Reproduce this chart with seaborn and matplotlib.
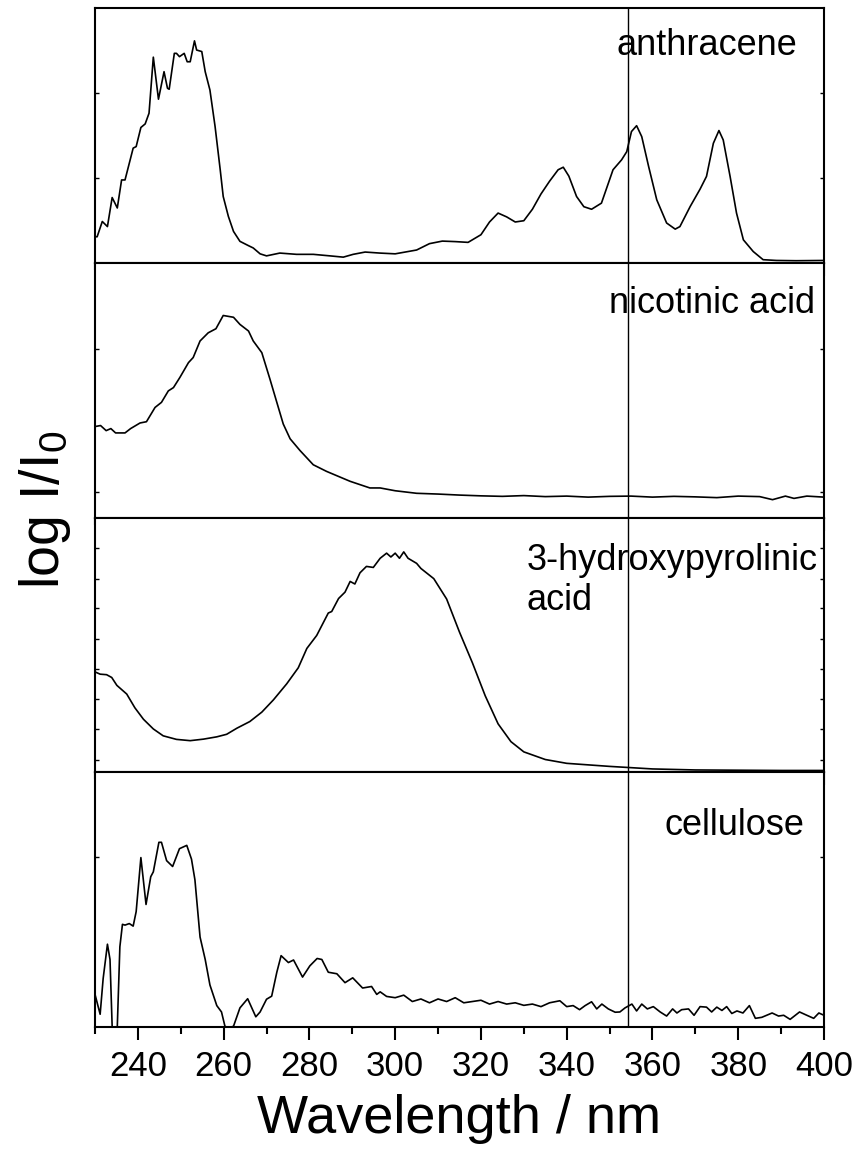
import numpy as np
import pandas as pd
import matplotlib
matplotlib.use("Agg")
import matplotlib.pyplot as plt
from matplotlib.ticker import MultipleLocator, FixedLocator, NullFormatter
import seaborn as sns

# ---------------- data (y in % of panel height) -------------
anth_wl = [230, 230.5, 231.7, 232.9, 234.0, 235.2, 236.2, 237.0, 238.9, 239.6, 240.7, 241.7,
           242.6, 243.6, 244.8, 246.1, 246.9, 247.3, 248.5, 249.0, 249.7, 250.8, 251.5, 252.2,
           253.2, 253.7, 254.9, 255.7, 256.8, 258.0, 259.2, 259.9, 261.1, 262.3, 263.8, 265.8,
           266.9, 268.5, 270.0, 273.1, 277.0, 280.9, 284.8, 287.9, 290.2, 293.0, 296.4, 300,
           305, 308, 311, 314, 317, 320, 322, 324, 326, 328, 330, 332, 334, 336, 338, 339.2,
           340.5, 342.3, 344, 345.8, 348.1, 350.8, 352.8, 354.0, 355.1, 356.3, 357.5, 359.1,
           361.0, 363.3, 365.3, 366.4, 368.8, 371.1, 372.6, 374.2, 375.5, 376.5, 378.1, 379.6,
           381.2, 383.5, 385.8, 388.9, 393.5, 400]
anth_val = [10.2, 10.2, 16.2, 14.2, 25.6, 21.5, 32.5, 32.5, 45.0, 45.6, 53.1, 54.5,
            58.7, 80.7, 64.2, 75.0, 68.5, 68.1, 82.2, 82.2, 80.9, 82.2, 78.9, 78.9,
            87.1, 83.5, 82.9, 75.0, 67.8, 53.5, 36.5, 26.0, 18.2, 12.3, 8.4, 6.7,
            5.8, 3.5, 2.7, 3.8, 3.3, 3.3, 2.7, 2.2, 3.3, 4.2, 3.8, 3.5,
            5.0, 7.5, 8.5, 8.3, 8.0, 11.0, 16.0, 19.5, 18.0, 16.0, 16.5, 21.0, 27.0, 32.0, 36.5, 37.5,
            34.0, 26.0, 22.0, 21.0, 23.4, 36.5, 40.4, 43.6, 51.5, 53.8, 49.5, 37.8,
            24.7, 15.6, 13.2, 14.2, 22.1, 28.9, 33.9, 46.9, 51.9, 48.2, 33.9, 19.5,
            9.0, 4.4, 1.2, 0.9, 0.8, 0.9]

nico_wl = [230, 231.3, 232.6, 233.7, 234.8, 237.0, 238.3, 240.5, 242.0, 244.0, 245.5, 247.1,
           248.3, 249.8, 251.8, 252.9, 254.5, 256.4, 258.2, 259.9, 262.3, 263.8, 265.8, 266.9,
           268.9, 270.8, 272.4, 273.9, 275.5, 277.8, 280.9, 284.0, 287.1, 289.5, 291.8, 294.1,
           296.5, 300, 305, 310, 315, 320, 325, 330, 335, 340, 345, 350, 355, 360, 365, 370,
           375, 380, 385, 388, 391, 393, 396, 400]
nico_val = [35.7, 36.1, 34.1, 34.9, 33.2, 33.2, 34.9, 37.1, 37.6, 43.2, 45.2, 49.7,
            51.0, 55.0, 60.8, 62.8, 69.3, 72.5, 74.1, 79.3, 78.6, 75.8, 73.2, 69.3,
            64.7, 54.3, 45.2, 36.7, 30.9, 26.3, 20.7, 18.1, 15.9, 14.2, 12.9, 11.6,
            11.6, 10.5, 9.5, 9.2, 8.8, 8.5, 8.3, 8.6, 8.2, 8.4, 8.0, 8.3, 8.4, 8.0, 8.3, 8.1,
            7.8, 8.4, 8.2, 7.0, 8.4, 7.5, 8.4, 8.0]

hpa_wl = [230, 231.2, 232.7, 233.9, 235.1, 237.4, 239.3, 241.3, 243.6, 245.9, 249.0, 252.2,
          255.3, 258.4, 260.7, 263.1, 266.1, 268.9, 271.6, 274.7, 277.4, 279.4, 281.7, 284.4,
          285.2, 286.8, 288.3, 289.5, 290.6, 291.8, 293.3, 294.9, 296.5, 298, 299, 300, 301,
          302, 303, 304, 305, 306, 309, 312, 315, 318, 321, 324, 327, 330, 335, 340, 350,
          355, 360, 370, 380, 390, 400]
hpa_val = [39.4, 38.5, 38.3, 37.2, 34.1, 30.7, 25.3, 20.8, 17.0, 14.3, 12.9, 12.4,
           13.0, 13.9, 14.9, 17.3, 19.9, 23.6, 28.4, 34.7, 41.0, 48.6, 53.7, 62.5,
           63.1, 68.2, 70.7, 74.9, 73.9, 78.3, 80.8, 80.4, 84.0, 86.0, 84.5, 86.0, 84.0,
           86.5, 84.0, 83.0, 82.0, 80.0, 76.0, 68.0, 55.0, 43.0, 30.0, 19.0, 12.0,
           8.0, 5.0, 3.5, 2.3, 1.8, 1.3, 0.9, 0.8, 0.7, 0.7]

cell_wl = [230, 231.2, 231.9, 232.9, 233.5, 234.1, 235.1, 235.8, 236.4, 237.0, 238.0, 238.9,
           239.6, 240.7, 241.9, 243.0, 243.6, 244.9, 245.5, 246.7, 248.1, 249.7, 251.4, 252.5,
           253.3, 254.5, 255.7, 256.8, 258.4, 259.5, 260.3, 261.1, 262.3, 263.8, 265.6, 267.5,
           268.5, 270.0, 271.2, 272.4, 273.4, 275.1, 276.3, 278.4, 280.1, 281.8, 282.9, 284.4,
           286.4, 288.3, 290.1, 292.4, 294.5, 295.7, 296.5, 298, 300, 302, 304, 306, 308, 310,
           312, 314, 316, 318, 320, 322, 324, 326, 328, 330, 332, 334, 336, 338.4, 340.0,
           341.5, 343.0, 344.3, 345.8, 347.0, 348.2, 349.7, 351.3, 352.4, 353.6, 355.2, 356.3,
           357.5, 358.8, 360.2, 361.8, 363.3, 364.7, 365.7, 366.8, 368.4, 369.7, 371.1, 372.6,
           373.8, 375.0, 376.2, 377.3, 378.5, 379.7, 381.1, 382.6, 384.0, 385.5, 387.9, 389.4,
           390.6, 392.1, 394.3, 396.0, 397.6, 398.8, 400]
cell_val = [12.8, 5.0, 19.0, 32.5, 26.5, -5.0, -5.0, 31.5, 40.3, 40.0, 40.6, 39.6,
            45.3, 66.5, 48.1, 59.0, 60.9, 72.5, 72.5, 65.3, 63.0, 70.0, 71.3, 65.9,
            57.8, 35.3, 26.5, 16.5, 8.4, 5.9, 0.3, -0.4, 0.3, 7.5, 11.1, 4.0,
            5.9, 10.9, 12.1, 21.5, 28.0, 25.3, 26.3, 19.6, 24.0, 26.9, 26.5, 21.5,
            20.9, 17.4, 19.3, 15.3, 15.9, 12.8, 13.8, 12.0, 11.5, 12.5, 10.0, 11.0, 9.5, 11.0,
            10.0, 11.5, 9.5, 10.0, 10.5, 9.0, 10.0, 9.0, 9.5, 8.5, 9.0, 8.0, 9.5, 10.3, 8.0,
            8.4, 6.8, 8.4, 9.9, 7.1, 9.0, 7.1, 5.8, 5.9, 7.5, 9.0, 6.3,
            9.0, 7.1, 8.0, 5.9, 4.3, 7.1, 5.5, 6.8, 7.1, 4.6, 8.0, 7.8,
            5.9, 7.8, 6.5, 8.0, 5.3, 6.3, 5.5, 8.4, 3.4, 3.8, 5.5, 4.3,
            4.6, 3.0, 5.9, 4.6, 3.4, 5.5, 4.6]

names = ["anthracene", "nicotinic acid", "3-hydroxypyrolinic\nacid", "cellulose"]
ytick_sets = [[33.3, 66.7], [10, 66], [5, 17, 28.7, 40.4, 52.4, 64.4, 76, 88], [66.7]]
vline_wl = 354.2

# ---------------- style ----------------
sns.set_theme(style="ticks")
plt.rcParams["font.family"] = ["Liberation Sans", "DejaVu Sans"]
plt.rcParams["mathtext.fontset"] = "custom"
plt.rcParams["mathtext.rm"] = "Liberation Sans"
plt.rcParams["mathtext.it"] = "Liberation Sans"
plt.rcParams["text.color"] = "black"
plt.rcParams["axes.labelcolor"] = "black"
plt.rcParams["xtick.color"] = "black"
plt.rcParams["ytick.color"] = "black"
plt.rcParams["xtick.labelcolor"] = "black"

fig, axes = plt.subplots(4, 1, figsize=(8.67, 11.67), dpi=100, sharex=True)
fig.subplots_adjust(left=95/867, right=824/867, top=1-8/1167, bottom=1-1027/1167, hspace=0)

series = [(anth_wl, anth_val), (nico_wl, nico_val), (hpa_wl, hpa_val), (cell_wl, cell_val)]
text_pos = [(351.7, 81.7, "left", "baseline"),
            (349.9, 80.3, "left", "baseline"),
            (398.6, 90.0, "right", "top"),
            (362.7, 75.3, "left", "baseline")]

for i, ax in enumerate(axes):
    wl, val = series[i]
    df = pd.DataFrame({"wl": wl, "val": val})
    sns.lineplot(data=df, x="wl", y="val", ax=ax, color="black", linewidth=1.2,
                 estimator=None, sort=False)
    ax.axvline(vline_wl, color="black", linewidth=1.0)
    ax.set_xlim(230, 400)
    ax.set_ylim(0, 100)
    ax.set_xlabel("")
    ax.set_ylabel("")
    for s in ax.spines.values():
        s.set_visible(True)
        s.set_linewidth(1.5)
        s.set_color("black")
    ax.xaxis.set_major_locator(MultipleLocator(20))
    ax.xaxis.set_minor_locator(MultipleLocator(10))
    ax.tick_params(axis="x", which="major", direction="out", length=9.5, width=1.5,
                   bottom=True, top=False, labelsize=25, pad=7, colors="black")
    ax.tick_params(axis="x", which="minor", direction="out", length=5, width=1.5,
                   bottom=True, top=False, colors="black")
    ax.yaxis.set_major_locator(FixedLocator(ytick_sets[i]))
    ax.yaxis.set_major_formatter(NullFormatter())
    ax.tick_params(axis="y", which="major", direction="in", length=3, width=1.0,
                   left=True, right=True, colors="black")
    ax.patch.set_facecolor("white")
    tx, ty, ha, va = text_pos[i]
    ax.text(tx, ty, names[i], fontsize=26, ha=ha, va=va, multialignment="left",
            color="black", zorder=5)
    if i < 3:
        ax.tick_params(axis="x", labelbottom=False)

axes[-1].set_xlabel("Wavelength / nm", fontsize=39, labelpad=8, color="black")
fig.text(0.052, 1 - 510/1167, r"log I/I$_\mathrm{0}$", rotation=90, fontsize=40,
         ha="center", va="center", color="black")

fig.savefig("out.png", dpi=100, facecolor="white")
